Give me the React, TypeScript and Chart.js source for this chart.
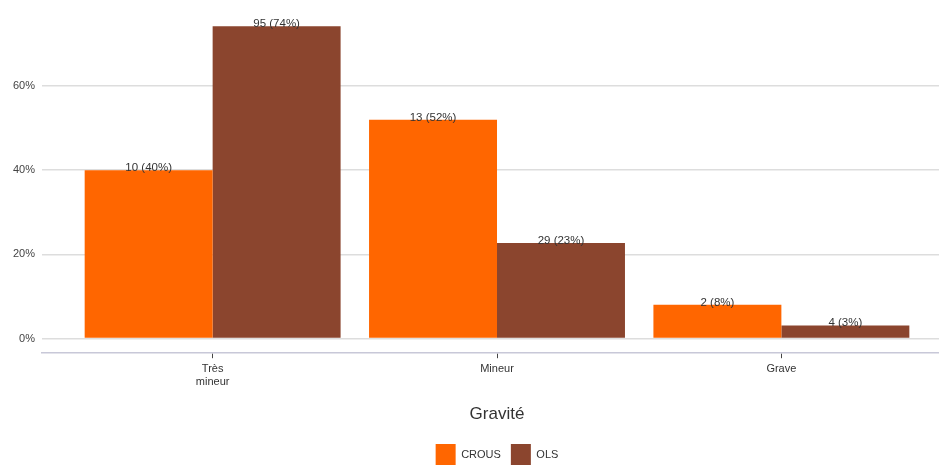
import React, { useEffect, useRef } from "react";
import { Chart, registerables } from "chart.js";

Chart.register(...registerables);

const categories: (string | string[])[] = [["Très", "mineur"], "Mineur", "Grave"];
const crousCounts = [10, 13, 2];
const crousPct = [40, 52, 8];
const olsCounts = [95, 29, 4];
const olsPct = [74.2, 22.7, 3.1];
const yTicks = [0, 20, 40, 60];
const seriesNames = ["CROUS", "OLS"];
const seriesColors = ["#FF6600", "#8B452E"];

const FONT = "'Liberation Sans', Arial, sans-serif";

const labelPlugin = {
  id: "barLabels",
  afterDatasetsDraw(chart: any) {
    const ctx = chart.ctx;
    const counts = [crousCounts, olsCounts];
    ctx.save();
    ctx.font = `11.5px ${FONT}`;
    ctx.fillStyle = "#333";
    ctx.textAlign = "center";
    ctx.textBaseline = "alphabetic";
    chart.data.datasets.forEach((ds: any, di: number) => {
      const meta = chart.getDatasetMeta(di);
      meta.data.forEach((el: any, i: number) => {
        const pct = Math.round(ds.data[i].y);
        ctx.fillText(`${counts[di][i]} (${pct}%)`, el.x, el.y + 1);
      });
    });
    ctx.restore();
  },
};

export default function App() {
  const ref = useRef<HTMLCanvasElement>(null);
  useEffect(() => {
    const chart = new Chart(ref.current!, {
      type: "bar",
      data: {
        datasets: [
          {
            label: seriesNames[0],
            data: crousPct.map((v, i) => ({ x: i, y: v })),
            backgroundColor: seriesColors[0],
            categoryPercentage: 0.9,
            barPercentage: 1,
          },
          {
            label: seriesNames[1],
            data: olsPct.map((v, i) => ({ x: i, y: v })),
            backgroundColor: seriesColors[1],
            categoryPercentage: 0.9,
            barPercentage: 1,
          },
        ],
      },
      options: {
        animation: false,
        responsive: true,
        maintainAspectRatio: false,
        layout: { padding: { left: 6, right: 44, top: 0, bottom: 0 } },
        plugins: {
          legend: {
            position: "bottom",
            fullSize: false,
            labels: {
              font: { family: FONT, size: 11 },
              color: "#333",
              boxWidth: 20,
              boxHeight: 21,
              padding: 10,
            },
          },
          tooltip: { enabled: false },
        },
        scales: {
          x: {
            type: "linear",
            min: -0.6,
            max: 2.6,
            offset: false,
            afterBuildTicks: (axis: any) => {
              axis.ticks = categories.map((_, i) => ({ value: i }));
            },
            ticks: {
              callback: (v: any) => categories[v as number],
              font: { family: FONT, size: 11, lineHeight: 1.2 },
              color: "#333",
              padding: 4,
              maxRotation: 0,
            },
            grid: {
              offset: false,
              drawOnChartArea: false,
              drawTicks: true,
              tickLength: 5,
              color: "#444",
            },
            border: { display: true, color: "#c8c8d8", width: 1.5 },
            title: {
              display: true,
              text: "Gravité",
              font: { family: FONT, size: 17 },
              color: "#333",
              padding: { top: 12, bottom: 9 },
            },
          },
          y: {
            min: -3.5,
            max: 77.2,
            afterBuildTicks: (axis: any) => {
              axis.ticks = yTicks.map((v) => ({ value: v }));
            },
            ticks: {
              callback: (v: any) => `${v}%`,
              font: { family: FONT, size: 11 },
              color: "#444",
              padding: 7,
            },
            grid: { color: "#dddddd", lineWidth: 1.5, drawTicks: false },
            border: { display: false },
          },
        },
      },
      plugins: [labelPlugin],
    } as any);
    return () => chart.destroy();
  }, []);
  return (
    <div style={{ position: "fixed", left: 0, top: 0, width: 939, height: 469, overflow: "hidden", background: "#fff" }}>
      <div style={{ position: "relative", width: 996, height: 475 }}>
        <canvas ref={ref} />
      </div>
    </div>
  );
}
